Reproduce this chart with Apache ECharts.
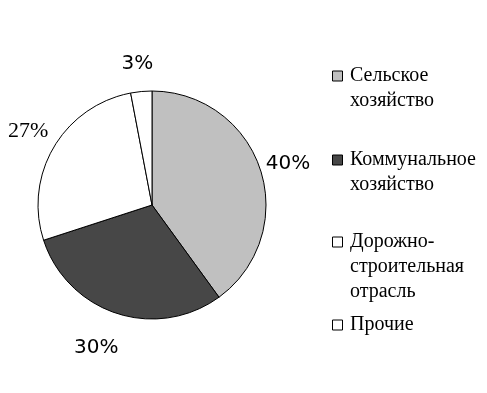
<!DOCTYPE html>
<html>
<head>
<meta charset="utf-8">
<script src="https://cdn.jsdelivr.net/npm/echarts@6/dist/echarts.min.js"></script>
<style>html,body{margin:0;padding:0;background:#fff}#c{width:487px;height:393px}</style>
</head>
<body>
<div id="c"></div>
<script>
var categories = ['Сельское хозяйство', 'Коммунальное хозяйство', 'Дорожно-строительная отрасль', 'Прочие'];
var legendLabels = ['Сельское\nхозяйство', 'Коммунальное\nхозяйство', 'Дорожно-\nстроительная\nотрасль', 'Прочие'];
var values = [40, 30, 27, 3];
var percentLabels = ['40%', '30%', '27%', '3%'];

var colors = ['#c0c0c0', '#474747', '#ffffff', '#ffffff'];
var labelStyles = ['sans', 'sans', 'serif', 'sans'];
var labelOffsets = [[-2, 4], [-11, 5], [1, 0], [-1, 3]];
var CX = 152, CY = 205;
var L = 25;
var firstLineY = [76, 160, 242, 325];

var mainData = categories.map(function (c, i) {
  return { name: c, value: values[i], itemStyle: { color: colors[i] } };
});
var labelData = categories.map(function (c, i) {
  return {
    name: c, value: values[i],
    label: { formatter: '{' + labelStyles[i] + '|' + percentLabels[i] + '}', offset: labelOffsets[i] }
  };
});

var legends = categories.map(function (c, i) {
  var n = legendLabels[i].split('\n').length;
  var H = 10 + (n - 1) * L;
  return {
    orient: 'vertical',
    left: 332,
    top: firstLineY[i] - L / 2,
    padding: 0,
    itemWidth: 12.5,
    itemHeight: H,
    itemGap: 0,
    icon: 'path://M0,0H10V10H0Z M12.5,' + H,
    selectedMode: false,
    itemStyle: { borderColor: '#000', borderWidth: 1 },
    formatter: function () { return legendLabels[i]; },
    textStyle: {
      fontFamily: 'Liberation Serif', fontSize: 20, color: '#000', lineHeight: L
    },
    data: [c]
  };
});

var chart = echarts.init(document.getElementById('c'), null, { renderer: 'canvas' });
chart.setOption({
  backgroundColor: '#fff',
  animation: false,
  legend: legends,
  series: [
    {
      type: 'pie',
      center: [CX, CY],
      radius: [0, 114],
      startAngle: 90,
      clockwise: true,
      silent: true,
      label: { show: false },
      labelLine: { show: false },
      itemStyle: { borderColor: '#000', borderWidth: 1 },
      data: mainData
    },
    {
      type: 'pie',
      center: [CX, CY],
      radius: [128, 156],
      startAngle: 90,
      clockwise: true,
      silent: true,
      itemStyle: { color: 'rgba(0,0,0,0)', borderWidth: 0 },
      label: {
        show: true, position: 'inside', color: '#000',
        rich: {
          sans: { fontFamily: 'DejaVu Sans', fontSize: 20, color: '#000' },
          serif: { fontFamily: 'Liberation Serif', fontSize: 22, color: '#000' }
        }
      },
      labelLine: { show: false },
      data: labelData
    }
  ]
});
</script>
</body>
</html>
